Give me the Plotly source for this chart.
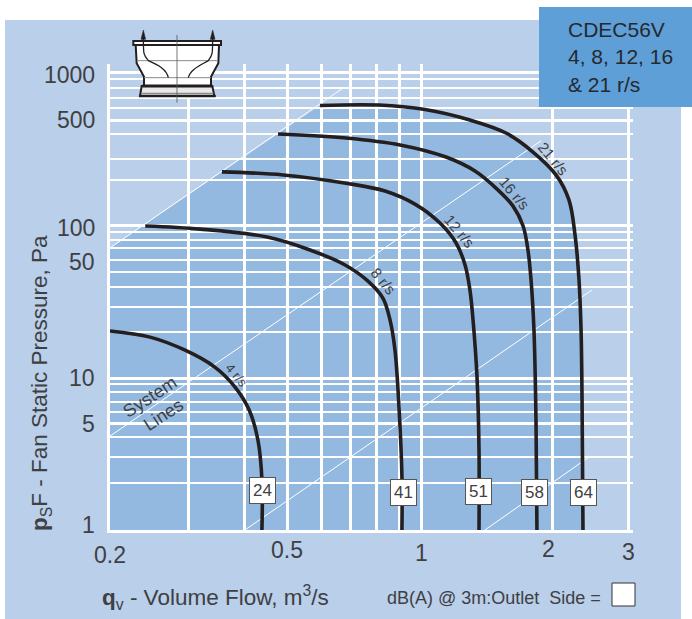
import math
import plotly.graph_objects as go

W, H = 692, 619
PLOT_L, PLOT_R, PLOT_T, PLOT_B = 110, 633, 64, 530

# ---- data ----
q_21 = [0.593, 0.805, 1.021, 1.288, 1.552, 1.785, 2.011, 2.150, 2.219, 2.265, 2.289, 2.301, 2.312]
p_21 = [608, 612, 572, 488, 401, 301, 213, 146, 86, 43.6, 20.5, 7.12, 1]
q_16 = [0.477, 0.678, 0.897, 1.138, 1.322, 1.482, 1.610, 1.696, 1.739, 1.767, 1.794, 1.813, 1.822]
p_16 = [395, 372, 335, 279, 226, 172, 133, 98.5, 68.6, 43.6, 20.5, 5.27, 1]
q_12 = [0.357, 0.490, 0.678, 0.830, 0.969, 1.103, 1.199, 1.256, 1.288, 1.309, 1.336, 1.350, 1.350]
p_12 = [223, 213, 188, 167, 137, 103, 76.2, 54.7, 37.5, 23.8, 10.1, 3.35, 1]
q_8 = [0.240, 0.319, 0.451, 0.563, 0.675, 0.760, 0.821, 0.852, 0.874, 0.893, 0.906, 0.906]
p_8 = [98.5, 94, 83.4, 68.6, 54.7, 42.9, 33.2, 23.8, 15.1, 6.12, 2.23, 1]
q_4 = [0.2, 0.246, 0.295, 0.344, 0.382, 0.411, 0.430, 0.439, 0.439]
p_4 = [20.2, 18.4, 15.1, 11.7, 8.66, 6.12, 3.89, 2.13, 1]

system_q = [[0.2, 0.668], [0.2, 1.861], [0.402, 2.423], [1.392, 2.385]]
system_p = [[70.7, 791], [4.13, 356], [1, 37.5], [1, 3.01]]

x_grid_major = [0.2996, 0.402, 0.5, 0.599, 0.696, 0.796, 0.893, 1, 1.97, 2.93]
y_grid_major = [5.03, 9.8, 100, 488, 1000]
y_grid_minor = [2.03, 3.01, 4.07, 5.94, 6.9, 8.03, 9.06, 20, 29.2, 39.5, 49, 59, 70.7, 80, 90,
                197, 271, 398, 581, 680, 791, 906]

y_tick_labels = ["1000", "500", "100", "50", "10", "5", "1"]
y_tick_px = [75, 120, 228, 262, 378, 424, 525]
x_tick_labels = ["0.2", "0.5", "1", "2", "3"]
x_tick_px = [(110, 555), (287, 550), (421, 553), (548, 549), (628, 552)]

speed_labels = ["4 r/s", "8 r/s", "12 r/s", "16 r/s", "21 r/s"]
speed_px = [(237, 375), (384, 281), (460, 231), (515, 193), (553, 159)]
db_labels = ["24", "41", "51", "58", "64"]
db_px = [(262, 490), (403, 492), (478, 491), (534, 492), (583, 492)]

LIGHT = "#b9cfea"
DARK = "#94b9e0"
HEAD = "#5f9fd7"
INK = "#231f20"
TXT = "#3f4042"
FONT = "Liberation Sans"


def fx(px):
    return px / W


def fy(py):
    return 1 - py / H


def pth(points, close=False):
    s = "M" + " L".join(f"{fx(a):.5f},{fy(b):.5f}" for a, b in points)
    return s + (" Z" if close else "")


fig = go.Figure()

for sq, sp in zip(system_q, system_p):
    fig.add_trace(go.Scatter(x=sq, y=sp, mode="lines", line=dict(color="white", width=1),
                             hoverinfo="skip", showlegend=False))

for name, q, p in [("4 r/s", q_4, p_4), ("8 r/s", q_8, p_8), ("12 r/s", q_12, p_12),
                   ("16 r/s", q_16, p_16), ("21 r/s", q_21, p_21)]:
    fig.add_trace(go.Scatter(x=q, y=p, mode="lines", name=name,
                             line=dict(color=INK, width=3.6, shape="spline", smoothing=1.0),
                             showlegend=False))

shapes = []
# panel
shapes.append(dict(type="rect", xref="paper", yref="paper", x0=fx(5), x1=fx(681), y0=0, y1=fy(20),
                   fillcolor=LIGHT, line_width=0, layer="below"))
# operating region, bounded by the top system line and the 21 r/s curve
region_q = [0.2, 0.2] + q_21
region_p = [1, 70.7] + p_21
region_path = "M" + " L".join(f"{a},{b}" for a, b in zip(region_q, region_p)) + " Z"
shapes.append(dict(type="path", xref="x", yref="y", path=region_path, fillcolor=DARK, line_width=0, layer="below"))
# header box
shapes.append(dict(type="rect", xref="paper", yref="paper", x0=fx(539), x1=1, y0=fy(107), y1=fy(7),
                   fillcolor=HEAD, line_width=0, layer="above"))
# legend key
shapes.append(dict(type="rect", xref="paper", yref="paper", x0=fx(612), x1=fx(635), y0=fy(606), y1=fy(583),
                   fillcolor="white", line=dict(color="#333333", width=1), layer="above"))


def icon(points, fill=None, color=INK, width=1.5, close=False, curve=None):
    path = curve if curve else pth(points, close)
    shapes.append(dict(type="path", xref="paper", yref="paper", path=path,
                       fillcolor=fill if fill else "rgba(0,0,0,0)",
                       line=dict(color=color, width=width), layer="above"))


def zp(zx, zy):
    return (125 + zx / 3, 30 + zy / 3)


# fan icon
icon([zp(32, 45), zp(35, 100), zp(57, 140), zp(57, 168), zp(258, 168), zp(258, 140), zp(280, 100), zp(282, 45)],
     fill="white", width=2, close=True)
icon([zp(50, 168), zp(45, 198), zp(268, 198), zp(262, 168)], fill="#e8e8e8", width=2, close=True)
icon([zp(36, 92), zp(278, 92)], color="#8a8a8a", width=1)
icon([zp(57, 143), zp(258, 143)], color="#8a8a8a", width=1)
icon([zp(50, 190), zp(265, 190)], color="#8a8a8a", width=1.2)
icon([zp(52, 168), zp(262, 168)], width=3)
icon([zp(42, 198), zp(272, 198)], width=2.6)
icon([zp(25, 33), zp(288, 33), zp(288, 45), zp(25, 45)], fill="white", width=2, close=True)
icon([zp(156, 15), zp(156, 218)], color="#555555", width=0.8)
for a, b, c, d, e, f in [((130, 143), (125, 118), (100, 105), (70, 92), (55, 75), (55, 15)),
                         ((190, 143), (195, 118), (228, 105), (250, 92), (263, 75), (263, 15))]:
    A, B, C, D, E, F = map(lambda t: zp(*t), (a, b, c, d, e, f))
    def s(t):
        return f"{fx(t[0]):.5f},{fy(t[1]):.5f}"
    icon(None, width=1.3, curve=f"M{s(A)} C{s(B)} {s(C)} {s(D)} C{s(E)} {s(E)} {s(F)}")
for tip in [55, 263]:
    icon([zp(tip, 0), zp(tip - 7, 28), zp(tip + 7, 28)], fill=INK, width=0.5, close=True)

ann = []


def text(t, px, py, size, angle=0, color=TXT, xanchor="center", **kw):
    ann.append(dict(text=t, xref="paper", yref="paper", x=fx(px), y=fy(py), showarrow=False,
                    xanchor=xanchor, yanchor="middle", textangle=angle,
                    font=dict(family=FONT, size=size, color=color), **kw))


for lab, py in zip(y_tick_labels, y_tick_px):
    text(lab, 97, py, 23, xanchor="right")
for lab, (px, py) in zip(x_tick_labels, x_tick_px):
    text(lab, px, py, 23)
for lab, (px, py) in zip(speed_labels, speed_px):
    text(lab, px, py, 15 if lab != "4 r/s" else 13, angle=50)
for lab, (px, py) in zip(db_labels, db_px):
    text(lab, px, py, 17, bgcolor="white", bordercolor="#555555", borderwidth=1, borderpad=0, width=25, height=25)

text("System", 150, 397, 18, angle=-33)
text("Lines", 163, 415, 18, angle=-33)
text("<b>p</b><sub>S</sub>F - Fan Static Pressure, Pa", 41, 383, 22.5, angle=-90)
text("<b>q</b><sub>v</sub> - Volume Flow, m<sup>3</sup>/s", 215, 597, 22.5)
text("dB(A) @ 3m:Outlet  Side =", 494, 598, 18)
text("CDEC56V<br>4, 8, 12, 16<br>&amp; 21 r/s", 566, 57, 21, xanchor="left", align="left", color="#26292e")

fig.update_layout(
    width=W, height=H, autosize=False,
    margin=dict(l=0, r=0, t=0, b=0),
    paper_bgcolor="white", plot_bgcolor="rgba(0,0,0,0)",
    showlegend=False,
    shapes=shapes, annotations=ann,
    xaxis=dict(type="log", domain=[fx(PLOT_L), fx(PLOT_R)],
               range=[math.log10(0.2), (PLOT_R - 421) / 445],
               tickmode="array", tickvals=x_grid_major, showticklabels=False, ticks="",
               showgrid=True, gridcolor="white", gridwidth=2.6, zeroline=False,
               showline=True, linecolor="white", linewidth=3),
    yaxis=dict(type="log", domain=[fy(PLOT_B), fy(PLOT_T)],
               range=[0, (PLOT_B - PLOT_T) / 152.5],
               tickmode="array", tickvals=y_grid_major, showticklabels=False, ticks="",
               showgrid=True, gridcolor="white", gridwidth=3, zeroline=False,
               showline=True, linecolor="white", linewidth=3,
               minor=dict(tickmode="array", tickvals=y_grid_minor, showgrid=True,
                          gridcolor="white", gridwidth=2, ticks="")),
)

fig.write_html("out.html", config={"displayModeBar": False},
               post_script="document.body.style.margin='0';")
